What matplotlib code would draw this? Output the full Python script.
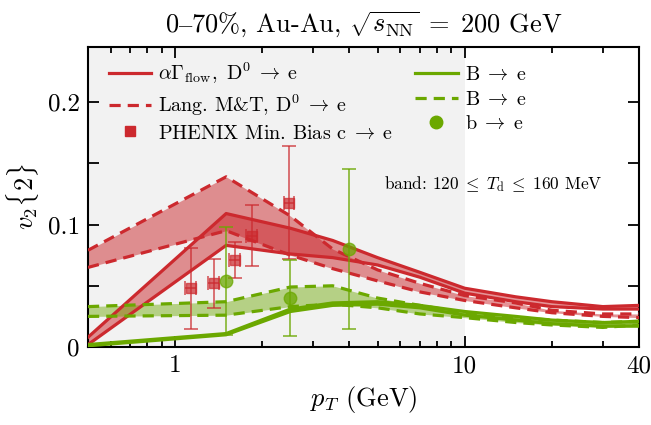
import numpy as np
import matplotlib
matplotlib.use('Agg')
import matplotlib.pyplot as plt
from matplotlib.ticker import FixedLocator, FuncFormatter, NullFormatter

plt.rcParams['font.family'] = ['cmr10', 'DejaVu Serif']
plt.rcParams['mathtext.fontset'] = 'cm'
plt.rcParams['axes.formatter.use_mathtext'] = True

red = '#cc292e'
green = '#6ba800'

# pT grid of the model curves (GeV)
pt = [0.5, 1.5, 2.5, 3.5, 5, 7, 10, 15, 20, 30, 40]

# alpha Gamma_flow, D0 -> e (band edges, solid)
flow_hi = [0.008, 0.109, 0.097, 0.087, 0.073, 0.061, 0.048, 0.041, 0.037, 0.033, 0.034]
flow_lo = [0.002, 0.083, 0.076, 0.073, 0.067, 0.057, 0.044, 0.037, 0.033, 0.031, 0.031]
# Langevin M&T, D0 -> e (band edges, dashed)
lang_hi = [0.079, 0.139, 0.107, 0.080, 0.063, 0.052, 0.042, 0.036, 0.030, 0.027, 0.027]
lang_lo = [0.065, 0.095, 0.075, 0.064, 0.054, 0.045, 0.038, 0.032, 0.028, 0.025, 0.024]
# B -> e, solid
bflow_hi = [0.002, 0.011, 0.031, 0.036, 0.037, 0.034, 0.029, 0.025, 0.022, 0.020, 0.021]
bflow_lo = [0.001, 0.010, 0.029, 0.034, 0.035, 0.032, 0.026, 0.022, 0.019, 0.017, 0.017]
# B -> e, dashed
blang_hi = [0.033, 0.037, 0.049, 0.050, 0.040, 0.034, 0.028, 0.024, 0.022, 0.020, 0.021]
blang_lo = [0.025, 0.026, 0.033, 0.035, 0.032, 0.027, 0.024, 0.020, 0.018, 0.016, 0.018]

# PHENIX minimum bias c -> e
phx_pt = [1.13, 1.36, 1.61, 1.84, 2.47]
phx_v2 = [0.048, 0.052, 0.071, 0.091, 0.118]
phx_err = [0.033, 0.020, 0.015, 0.025, 0.046]
phx_xerr = [0.05, 0.06, 0.07, 0.08, 0.10]

# b -> e
b_pt = [1.5, 2.5, 4.0]
b_v2 = [0.054, 0.040, 0.080]
b_err = [0.044, 0.031, 0.065]

fig = plt.figure(figsize=(6.51, 4.25), dpi=100)
ax = fig.add_axes([0.1352, 0.1835, 0.8464, 0.7059])
ax.set_xscale('log')
ax.set_xlim(0.5, 40)
ax.set_ylim(0, 0.245)

ax.axvspan(0.5, 10, color='#f2f2f2', zorder=0, lw=0)

# bands
ax.fill_between(pt, lang_lo, lang_hi, color=red, alpha=0.5, lw=0, zorder=1)
ax.fill_between(pt, flow_lo, flow_hi, color=red, alpha=0.5, lw=0, zorder=1)
ax.fill_between(pt, blang_lo, blang_hi, color=green, alpha=0.45, lw=0, zorder=1)
ax.fill_between(pt, bflow_lo, bflow_hi, color=green, alpha=0.6, lw=0, zorder=1)

dash = (0, (3.5, 2.2))
lw = 2.3
ax.plot(pt, flow_hi, color=red, lw=lw, zorder=3, label=r'$\alpha\Gamma_{\rm flow},\ {\rm D}^0\;\rightarrow\;{\rm e}$')
ax.plot(pt, flow_lo, color=red, lw=lw, zorder=3)
ax.plot(pt, lang_hi, color=red, lw=lw, ls=dash, zorder=3, label=r'Lang. M&T, ${\rm D}^0\;\rightarrow\;{\rm e}$')
ax.plot(pt, lang_lo, color=red, lw=lw, ls=dash, zorder=3)
ax.plot(pt, bflow_hi, color=green, lw=lw, zorder=3, label=r'${\rm B}\;\rightarrow\;{\rm e}$')
ax.plot(pt, bflow_lo, color=green, lw=lw, zorder=3)
ax.plot(pt, blang_hi, color=green, lw=lw, ls=dash, zorder=3, label=r'${\rm B}\;\rightarrow\;{\rm e}$')
ax.plot(pt, blang_lo, color=green, lw=lw, ls=dash, zorder=3)

# data points
ax.errorbar(phx_pt, phx_v2, yerr=phx_err, xerr=phx_xerr, fmt='s', ms=7, color=red,
            ecolor=red, elinewidth=1.3, capsize=5, capthick=1.3, alpha=0.7, zorder=4)
ax.errorbar(b_pt, b_v2, yerr=b_err, fmt='o', ms=9, color=green,
            ecolor=green, elinewidth=1.3, capsize=5, capthick=1.3, alpha=0.75, zorder=4)

# legend handles
h_flow, h_lang, h_bflow, h_blang = ax.get_lines()[0], ax.get_lines()[2], ax.get_lines()[4], ax.get_lines()[6]
h_phx, = ax.plot([], [], 's', ms=7, color=red, label=r'PHENIX Min. Bias ${\rm c}\;\rightarrow\;{\rm e}$')
h_b, = ax.plot([], [], 'o', ms=9, color=green, label=r'${\rm b}\;\rightarrow\;{\rm e}$')
ax.legend([h_flow, h_lang, h_phx, h_bflow, h_blang, h_b],
          [h.get_label() for h in [h_flow, h_lang, h_phx, h_bflow, h_blang, h_b]],
          ncol=2, frameon=False, loc='upper left', bbox_to_anchor=(0.005, 1.015),
          fontsize=14.5, handlelength=2.1, handletextpad=0.35, columnspacing=1.1,
          labelspacing=0.32)

ax.text(0.538, 0.543, r'band: $120\;\leq\;T_{\rm d}\;\leq\;160$ MeV', transform=ax.transAxes,
        fontsize=12.5, ha='left', va='center')

# ticks
ax.xaxis.set_major_locator(FixedLocator([1, 10, 40]))
ax.xaxis.set_minor_locator(FixedLocator([0.6, 0.7, 0.8, 0.9, 2, 3, 4, 5, 6, 7, 8, 9, 20, 30]))
ax.xaxis.set_major_formatter(FuncFormatter(lambda v, p: '%d' % v))
ax.xaxis.set_minor_formatter(NullFormatter())
ax.yaxis.set_major_locator(FixedLocator([0, 0.05, 0.1, 0.15, 0.2]))
ax.yaxis.set_major_formatter(FuncFormatter(
    lambda v, p: {0: '0', 0.1: '0.1', 0.2: '0.2'}.get(round(v, 2), '')))
ax.tick_params(which='both', direction='in', top=True, right=True, labelsize=18, width=1.3)
ax.tick_params(which='major', length=8, pad=6)
ax.tick_params(which='minor', length=4.5)
for s in ax.spines.values():
    s.set_linewidth(1.5)

ax.set_xlabel(r'$p_T$ (GeV)', fontsize=19, labelpad=5)
ax.set_ylabel(r'$v_2\{2\}$', fontsize=19, labelpad=5)
ax.set_title('0$\u2013$70%, Au-Au, $\\sqrt{s_{\\rm NN}}\\;=\\;200$ GeV', fontsize=19, pad=11)

fig.savefig('out.png', dpi=100)
